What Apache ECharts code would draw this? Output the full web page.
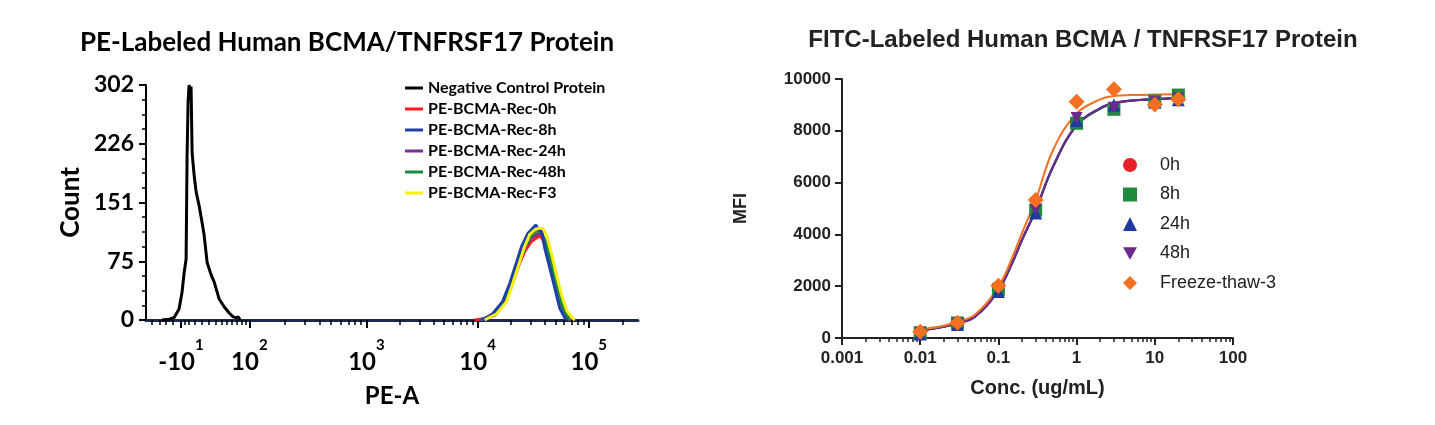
<!DOCTYPE html>
<html><head><meta charset="utf-8">
<script src="https://cdn.jsdelivr.net/npm/echarts@6/dist/echarts.min.js"></script>
<style>html,body{margin:0;padding:0;background:#fff}#c{width:1435px;height:425px}</style>
</head><body><div id="c"></div>
<script>
// ---------- Left panel: PE histogram (x = display channel 0..1000 of biexponential PE-A scale)
const peMajorTicks = [71, 210, 448, 674, 900];
const peMajorBase = ['-10', '10', '10', '10', '10'];
const peMajorExp = ['1', '2', '3', '4', '5'];
const peLinearMinor = [12, 27, 41, 55, 79, 86, 100, 114, 128, 141, 153, 165, 175, 185, 194, 202];
const countTicks = ['0', '75', '151', '226', '302'];
const histNames = ['Negative Control Protein', 'PE-BCMA-Rec-0h', 'PE-BCMA-Rec-8h', 'PE-BCMA-Rec-24h', 'PE-BCMA-Rec-48h', 'PE-BCMA-Rec-F3'];
const histColors = ['#000000', '#ff1a1a', '#1f3fa8', '#7b2d9a', '#1e8c3a', '#f5f010'];
const histNeg = [[32.6,0],[46.8,1],[57,3],[67.2,14],[73.3,36],[77.4,60],[81.5,78],[83.5,211],[85.5,280],[87.6,302],[89.6,292],[91.6,300],[93.7,215],[97.8,186],[101.8,165],[107.9,147],[114,125],[118,110],[124.2,74],[132.4,58],[138.5,49],[148.7,27],[158.9,17],[169,9],[177.2,4],[183.3,3],[187.4,4],[191.4,0]];
const hist0h = [[668,0],[690,2],[708.8,6],[729.1,22],[743.4,44],[757.6,70],[769.9,88],[782,100],[794.3,106],[802.4,108],[812.6,95],[822.8,75],[833,50],[843.2,25],[853.4,8],[863.5,0]];
const hist8h = [[684.3,0],[704.7,8],[725,24],[739.3,47],[753.6,75],[763.7,95],[776,111],[786.2,118],[792.3,122],[798.4,116],[804.5,114],[810.6,92],[820.8,67],[831,41],[841.1,15],[851.3,3],[855.4,0]];
const hist24h = [[678.2,0],[708.8,7],[729.1,23],[743.4,45],[757.6,72],[769.9,92],[782,105],[794.3,110],[802.4,112],[812.6,97],[822.8,72],[833,47],[843.2,22],[853.4,6],[861.5,0]];
const hist48h = [[682.3,0],[710.8,8],[731.2,24],[743.4,46],[757.6,73],[769.9,93],[782,108],[792.3,114],[802.4,114],[812.6,100],[822.8,76],[833,50],[843.2,24],[853.4,7],[861.5,0]];
const histF3 = [[688.4,0],[712.8,8],[733.2,24],[745.4,47],[759.7,75],[769.9,95],[780,110],[790.2,116],[798.4,118],[806.5,118],[814.7,108],[824.8,84],[835,56],[845.2,31],[855.4,12],[865.6,3],[871.7,0]];
const histData = [histNeg, hist0h, hist8h, hist24h, hist48h, histF3];
const histOrder = [0, 1, 3, 4, 2, 5];

// ---------- Right panel: FITC binding curves
const concs = [0.01, 0.03, 0.1, 0.3, 1, 3, 10, 20];
const mfiNames = ['0h', '8h', '24h', '48h', 'Freeze-thaw-3'];
const mfiColors = ['#e8202a', '#1f8a3c', '#1f3a9c', '#6b2b8c', '#f36f21'];
const mfiSymbols = ['circle', 'rect', 'triangle', 'path://M0,0 L10,0 L5,9 Z', 'diamond'];
const mfiSizes = [12, 13, 13, 12, 16];
const mfi0h = [220, 560, 1850, 4900, 8300, 8900, 9100, 9250];
const mfi8h = [200, 580, 1880, 4940, 8290, 8830, 9150, 9380];
const mfi24h = [150, 520, 1800, 4830, 8400, 9000, 9100, 9200];
const mfi48h = [200, 550, 1850, 4950, 8490, 8890, 9100, 9250];
const mfiF3 = [245, 590, 2020, 5330, 9120, 9600, 9020, 9220];
const mfiData = [mfi0h, mfi8h, mfi24h, mfi48h, mfiF3];
const fitConcs = [0.01, 0.02, 0.03, 0.05, 0.1, 0.15, 0.2, 0.3, 0.5, 1, 2, 3, 5, 10, 20, 24];
const fit0h = [290, 430, 560, 810, 1840, 2880, 3770, 4930, 6610, 8210, 8860, 9060, 9160, 9210, 9260, 9270];
const fit8h = [300, 440, 570, 820, 1850, 2890, 3780, 4930, 6600, 8200, 8850, 9050, 9160, 9220, 9270, 9280];
const fit24h = [280, 430, 570, 820, 1850, 2900, 3790, 4940, 6620, 8220, 8870, 9070, 9170, 9220, 9270, 9280];
const fit48h = [290, 440, 570, 820, 1860, 2910, 3800, 4950, 6630, 8230, 8880, 9070, 9170, 9220, 9270, 9280];
const fitF3 = [330, 470, 630, 900, 1980, 3100, 4050, 5330, 7260, 8670, 9210, 9340, 9380, 9400, 9410, 9410];
const fitData = [fit0h, fit8h, fit24h, fit48h, fitF3];

// tick layout helpers
function logMinor(majors) {
  const out = [];
  for (let i = 0; i < majors.length - 1; i++) {
    const a = majors[i], b = majors[i + 1];
    for (let k = 2; k <= 9; k++) out.push(a + (b - a) * Math.log10(k));
  }
  return out;
}
const peDecades = peMajorTicks.slice(1);
const peMinor = peLinearMinor.concat(logMinor(peDecades), [900 + 226 * Math.log10(2)]);
const concMinor = [];
[0.001, 0.01, 0.1, 1, 10].forEach(d => { for (let k = 2; k <= 9; k++) concMinor.push(d * k); });

const LF = 'Lato, "Open Sans", sans-serif';
const AF = '"Liberation Sans", Arial, sans-serif';

const series = [];
histOrder.forEach(i => {
  series.push({
    name: histNames[i], type: 'line', xAxisIndex: 0, yAxisIndex: 0,
    data: histData[i], showSymbol: false, symbol: 'none', smooth: false,
    lineStyle: { color: histColors[i], width: 3 }, itemStyle: { color: histColors[i] },
    z: 3, animation: false
  });
});
fitData.forEach((arr, i) => {
  series.push({
    name: mfiNames[i] + ' fit', type: 'line', xAxisIndex: 2, yAxisIndex: 1,
    data: fitConcs.map((c, j) => [c, arr[j]]), showSymbol: false, symbol: 'none', smooth: 0.4,
    lineStyle: { color: mfiColors[i], width: 2 }, z: 3, animation: false
  });
});
mfiData.forEach((arr, i) => {
  series.push({
    name: mfiNames[i], type: 'scatter', xAxisIndex: 2, yAxisIndex: 1,
    data: concs.map((c, j) => [c, arr[j]]), symbol: mfiSymbols[i], symbolSize: mfiSizes[i],
    itemStyle: { color: mfiColors[i], opacity: 1 }, z: 4, animation: false
  });
});

const option = {
  backgroundColor: '#fff',
  animation: false,
  title: [
    { text: 'PE-Labeled Human BCMA/TNFRSF17 Protein', left: 342, top: 25, textAlign: 'center',
      textStyle: { fontFamily: LF, fontWeight: 'bold', fontSize: 26, color: '#000' } },
    { text: 'FITC-Labeled Human BCMA / TNFRSF17 Protein', left: 1078, top: 23, textAlign: 'center',
      textStyle: { fontFamily: AF, fontWeight: 'bold', fontSize: 24, color: '#222' } }
  ],
  legend: [
    { data: histNames, orient: 'vertical', left: 405, top: 80, padding: 0, icon: 'rect', itemWidth: 18, itemHeight: 3,
      itemGap: 5, selectedMode: false,
      textStyle: { fontFamily: LF, fontWeight: 'bold', fontSize: 16, lineHeight: 16, color: '#000' } },
    { data: mfiNames, orient: 'vertical', left: 1123, top: 156, padding: 0, itemWidth: 14, itemHeight: 14,
      itemGap: 11.5, selectedMode: false,
      textStyle: { fontFamily: AF, fontSize: 18, lineHeight: 18, color: '#222', padding: [0, 0, 0, 18] } }
  ],
  grid: [
    { left: 146, top: 85, width: 492, height: 235 },
    { left: 842, top: 79, width: 391, height: 259 }
  ],
  xAxis: [
    { type: 'value', gridIndex: 0, min: 0, max: 1000,
      name: 'PE-A', nameLocation: 'middle', nameGap: 64,
      nameTextStyle: { fontFamily: LF, fontWeight: 'bold', fontSize: 24, color: '#000' },
      axisLine: { lineStyle: { color: '#1c2a52', width: 3 } },
      axisTick: { customValues: peMajorTicks, length: 8, lineStyle: { color: '#000', width: 2 } },
      splitLine: { show: false },
      axisLabel: { customValues: peMajorTicks, margin: 18,
        formatter: v => { let i = 0, d = 1e9; peMajorTicks.forEach((t, k) => { if (Math.abs(t - v) < d) { d = Math.abs(t - v); i = k; } });
          return '{b|' + peMajorBase[i] + '}{s|' + peMajorExp[i] + '}'; },
        rich: {
          b: { fontFamily: LF, fontWeight: 'bold', fontSize: 24, color: '#000', lineHeight: 36, verticalAlign: 'bottom' },
          s: { fontFamily: LF, fontWeight: 'bold', fontSize: 15, color: '#000', lineHeight: 36, verticalAlign: 'top' }
        } } },
    { type: 'value', gridIndex: 0, min: 0, max: 1000, position: 'bottom',
      axisLine: { show: false }, axisLabel: { show: false }, splitLine: { show: false },
      axisTick: { customValues: peMinor, length: 5, lineStyle: { color: '#000', width: 1.5 } } },
    { type: 'log', gridIndex: 1, logBase: 10, min: 0.001, max: 100,
      name: 'Conc. (ug/mL)', nameLocation: 'middle', nameGap: 40,
      nameTextStyle: { fontFamily: AF, fontWeight: 'bold', fontSize: 20, color: '#222' },
      axisLine: { lineStyle: { color: '#222', width: 2 } },
      axisTick: { length: 7, lineStyle: { color: '#222', width: 2 } },
      splitLine: { show: false }, minorTick: { show: false },
      axisLabel: { fontFamily: AF, fontWeight: 'bold', fontSize: 17, color: '#222', margin: 12,
        formatter: v => String(+v.toPrecision(3)) } },
    { type: 'log', gridIndex: 1, logBase: 10, min: 0.001, max: 100, position: 'bottom',
      axisLine: { show: false }, axisLabel: { show: false }, splitLine: { show: false },
      axisTick: { customValues: concMinor, length: 4, lineStyle: { color: '#222', width: 1.5 } } }
  ],
  yAxis: [
    { type: 'value', gridIndex: 0, min: 0, max: 302, interval: 75.5,
      name: 'Count', nameLocation: 'middle', nameGap: 62,
      nameTextStyle: { fontFamily: LF, fontWeight: 'bold', fontSize: 26, color: '#000' },
      axisLine: { show: true, lineStyle: { color: '#000', width: 2 } },
      axisTick: { show: true, length: 7, lineStyle: { color: '#000', width: 2 } },
      minorTick: { show: true, splitNumber: 4, length: 4, lineStyle: { color: '#000', width: 1.5 } },
      splitLine: { show: false }, minorSplitLine: { show: false },
      axisLabel: { margin: 12, fontFamily: LF, fontWeight: 'bold', fontSize: 23, color: '#000',
        formatter: v => countTicks[Math.round(v / 75.5)] } },
    { type: 'value', gridIndex: 1, min: 0, max: 10000, interval: 2000,
      name: 'MFI', nameLocation: 'middle', nameGap: 92,
      nameTextStyle: { fontFamily: AF, fontWeight: 'bold', fontSize: 18, color: '#222' },
      axisLine: { show: true, lineStyle: { color: '#222', width: 2 } },
      axisTick: { show: true, length: 7, lineStyle: { color: '#222', width: 2 } },
      splitLine: { show: false },
      axisLabel: { margin: 11, fontFamily: AF, fontWeight: 'bold', fontSize: 17, color: '#222',
        formatter: v => String(v) } }
  ],
  series: series
};
const chart = echarts.init(document.getElementById('c'), null, { renderer: 'canvas' });
chart.setOption(option);
</script></body></html>
